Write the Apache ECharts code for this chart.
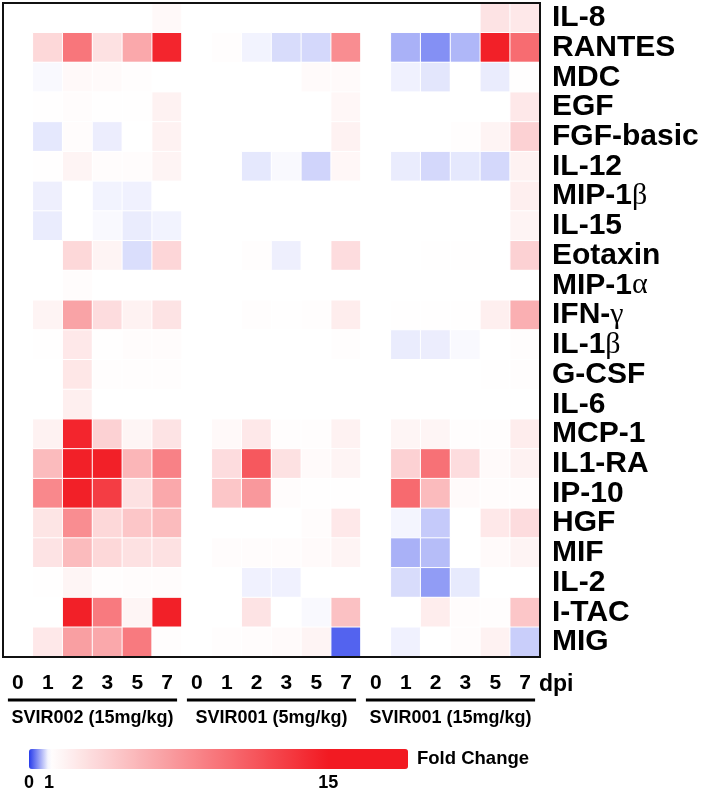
<!DOCTYPE html>
<html><head><meta charset="utf-8">
<script src="https://cdn.jsdelivr.net/npm/echarts@6/dist/echarts.min.js"></script>
<style>html,body{margin:0;padding:0;background:#fff}#c{width:702px;height:796px}</style>
</head><body><div id="c"></div>
<script>
const cytokines = ['IL-8','RANTES','MDC','EGF','FGF-basic','IL-12','MIP-1β','IL-15','Eotaxin','MIP-1α','IFN-γ','IL-1β','G-CSF','IL-6','MCP-1','IL1-RA','IP-10','HGF','MIF','IL-2','I-TAC','MIG'];
const dpiLabels = ['0','1','2','3','5','7'];
const groupNames = ['SVIR002 (15mg/kg)','SVIR001 (5mg/kg)','SVIR001 (15mg/kg)'];
const colorbarTicks = [0, 1, 15];

// fold change per cytokine, columns = dpi 0,1,2,3,5,7
const svir002_15 = [
  [1, 1, 1, 1, 1, 1.4],
  [1, 3.4, 9.4, 2.8, 6.3, 14.3],
  [1, 0.97, 1.4, 1.3, 1.15, 1],
  [1, 1.05, 1.2, 1.05, 1.05, 1.8],
  [1, 0.88, 1.2, 0.91, 1, 1.8],
  [1, 1.05, 1.7, 1.2, 1.2, 1.7],
  [1, 0.92, 1, 0.94, 0.93, 1],
  [1, 0.9, 1, 0.97, 0.9, 0.94],
  [1, 1, 3.4, 1.7, 0.83, 3.5],
  [1, 1, 1.2, 1, 1, 1],
  [1, 1.7, 6.6, 3.1, 1.8, 2.7],
  [1, 1.05, 2.4, 1.05, 1.2, 1.2],
  [1, 1, 2.5, 1.1, 1.15, 1.1],
  [1, 1, 2, 1, 1, 1],
  [1, 1.8, 14.3, 3.8, 1.6, 2.7],
  [1, 5.2, 14.6, 14.6, 5.5, 8.7],
  [1, 8.3, 14.6, 12.9, 2.8, 6.3],
  [1, 2.6, 8, 3.4, 4.5, 5.2],
  [1, 2.7, 5.2, 3.4, 2.8, 2.8],
  [1, 1.05, 1.6, 1.1, 1.2, 1.2],
  [1, 1, 14.6, 9.1, 1.6, 14.6],
  [1, 2.4, 6.9, 6.3, 9.1, 1.15]
];
const svir001_5 = [
  [1, 1, 1, 1, 1, 1],
  [1, 1.1, 0.94, 0.82, 0.8, 8],
  [1, 1, 1, 1, 1.3, 1.3],
  [1, 1, 1, 1, 1, 1.5],
  [1, 1, 1, 1, 1, 1.8],
  [1, 1, 0.88, 0.97, 0.78, 1.5],
  [1, 1, 1, 1, 1, 1],
  [1, 1, 1, 1, 1, 1],
  [1, 1, 1.1, 0.92, 1, 3.1],
  [1, 1, 1, 1, 1, 1],
  [1, 1, 1.1, 1.05, 1.1, 2.1],
  [1, 1, 1, 1, 1, 1.15],
  [1, 1, 1, 1, 1, 1],
  [1, 1, 1, 1, 1, 1],
  [1, 1.4, 2.4, 1.15, 1.15, 1.8],
  [1, 3.1, 11.2, 2.8, 1.3, 1.7],
  [1, 4.5, 7.3, 1.2, 1.05, 1.05],
  [1, 1, 1, 1, 1.2, 2.4],
  [1, 1.2, 1.2, 1.2, 1.3, 1.7],
  [1, 1, 0.93, 0.93, 1, 1],
  [1, 1, 2.7, 1, 0.97, 4.8],
  [1, 1.1, 1.2, 1.3, 1.7, 0.2]
];
const svir001_15 = [
  [1, 1, 1, 1, 2.7, 2.4],
  [1, 0.6, 0.43, 0.63, 14.6, 10],
  [1, 0.93, 0.87, 1, 0.9, 1.05],
  [1, 1, 1, 1, 1, 2.4],
  [1, 1, 1, 1.1, 1.7, 3.8],
  [1, 0.9, 0.8, 0.88, 0.8, 1.8],
  [1, 1, 1, 1, 1, 2],
  [1, 1, 1, 1, 1, 1.7],
  [1, 1, 1.05, 1.05, 1, 3.8],
  [1, 1, 1, 1, 1, 1],
  [1, 1.05, 1.05, 1.05, 2, 5.9],
  [1, 0.9, 0.91, 0.97, 1, 1.1],
  [1, 1, 1, 1, 1.05, 1.1],
  [1, 1, 1, 1, 1, 1],
  [1, 1.6, 1.6, 1.15, 1.1, 2.1],
  [1, 3.8, 9.7, 3.1, 1.3, 1.8],
  [1, 10.1, 5.2, 1.3, 1.2, 1.2],
  [1, 0.95, 0.73, 1, 2.4, 3.1],
  [1, 0.6, 0.66, 1, 1.3, 1.7],
  [1, 0.82, 0.49, 0.89, 1, 1],
  [1, 1, 2.1, 1.2, 1.1, 4.5],
  [1, 0.93, 1, 1.2, 1.8, 0.75]
];

const groupsData = [svir002_15, svir001_5, svir001_15];
const xCats = [];
groupNames.forEach((g, gi) => dpiLabels.forEach(d => xCats.push(gi + '|' + d)));
const data = [];
groupsData.forEach((m, gi) => m.forEach((row, ri) => row.forEach((v, di) => data.push([gi * 6 + di, ri, v]))));

// colour scale: 0 blue -> 1 white -> 15 red (saturated beyond)
const BLUE = [40, 60, 235], WHITE = [255, 255, 255], RED = [242, 26, 34];
const VMAX = 19;
function mix(a, b, t) { return 'rgb(' + a.map((x, i) => Math.round(x + (b[i] - x) * t)).join(',') + ')'; }
const stops = [];
for (let v = 0; v <= VMAX; v++) {
  if (v === 0) stops.push(mix(BLUE, WHITE, 0));
  else if (v <= 15) stops.push(mix(WHITE, RED, (v - 1) / 14));
  else stops.push(mix(RED, RED, 0));
}

const FONT = "'Liberation Sans', Arial, Helvetica, sans-serif";
const SERIF = "'Liberation Serif', 'Times New Roman', serif";
const chart = echarts.init(document.getElementById('c'), null, {renderer: 'canvas'});
const option = {
  animation: false,
  backgroundColor: '#fff',
  grid: [
    {left: 3, top: 3, width: 537, height: 654, show: true, z: 5, borderColor: '#111', borderWidth: 2, backgroundColor: 'transparent'},
    {left: 29, top: 768, width: 379, height: 1, show: false}
  ],
  xAxis: [
    {type: 'category', gridIndex: 0, data: xCats, position: 'bottom',
     axisLine: {show: false}, axisTick: {show: false}, splitLine: {show: false},
     axisLabel: {interval: 0, formatter: v => v.split('|')[1], fontSize: 21, fontWeight: 'bold', color: '#000', fontFamily: FONT, margin: 16},
     name: 'dpi', nameLocation: 'end', nameGap: -1,
     nameTextStyle: {fontSize: 23, fontWeight: 'bold', color: '#000', fontFamily: FONT, align: 'left', verticalAlign: 'top', padding: [16, 0, 0, 0]}},
    {type: 'value', gridIndex: 1, min: 0, max: VMAX,
     axisLine: {show: false}, axisTick: {show: false}, splitLine: {show: false},
     axisLabel: {customValues: colorbarTicks, fontSize: 18, fontWeight: 'bold', color: '#000', fontFamily: FONT, margin: 5}}
  ],
  yAxis: [
    {type: 'category', gridIndex: 0, data: cytokines, inverse: true, position: 'right',
     axisLine: {show: false}, axisTick: {show: false}, splitLine: {show: false},
     axisLabel: {interval: 0, margin: 12, fontSize: 30, fontWeight: 'bold', color: '#000', fontFamily: FONT, align: 'left',
       formatter: s => s.replace(/([αβγ])/g, '{g|$1}'),
       rich: {g: {fontFamily: SERIF, fontSize: 30, fontWeight: 'normal', color: '#000'}}}},
    {type: 'value', gridIndex: 1, show: false}
  ],
  visualMap: {
    type: 'continuous', min: 0, max: VMAX, seriesIndex: 0, dimension: 2,
    orient: 'horizontal', left: 29, top: 749, itemWidth: 20, itemHeight: 379,
    calculable: false, hoverLink: false, padding: 0,
    text: ['Fold Change', ''], textGap: 9,
    textStyle: {fontSize: 18.5, fontWeight: 'bold', color: '#000', fontFamily: FONT},
    inRange: {color: stops}
  },
  series: [{
    type: 'heatmap', xAxisIndex: 0, yAxisIndex: 0, data: data,
    itemStyle: {borderColor: '#fff', borderWidth: 1},
    emphasis: {disabled: true}
  }]
};
chart.setOption(option);

// group underlines and names, positioned from the axis scale
const band = chart.convertToPixel({xAxisIndex: 0}, 1) - chart.convertToPixel({xAxisIndex: 0}, 0);
const gridBottom = chart.convertToPixel({yAxisIndex: 0}, cytokines.length - 1) + band / 2;
const graphics = [];
groupNames.forEach((g, gi) => {
  const xs = chart.convertToPixel({xAxisIndex: 0}, gi * 6);
  const xe = chart.convertToPixel({xAxisIndex: 0}, gi * 6 + 5);
  graphics.push({type: 'line', shape: {x1: xs - 10, y1: gridBottom + 43, x2: xe + 10, y2: gridBottom + 43}, style: {stroke: '#000', lineWidth: 3}});
  graphics.push({type: 'text', x: (xs + xe) / 2, y: gridBottom + 61, style: {text: g, fill: '#000', font: 'bold 18px ' + FONT, align: 'center', verticalAlign: 'middle'}});
});
chart.setOption({graphic: graphics});
</script></body></html>
